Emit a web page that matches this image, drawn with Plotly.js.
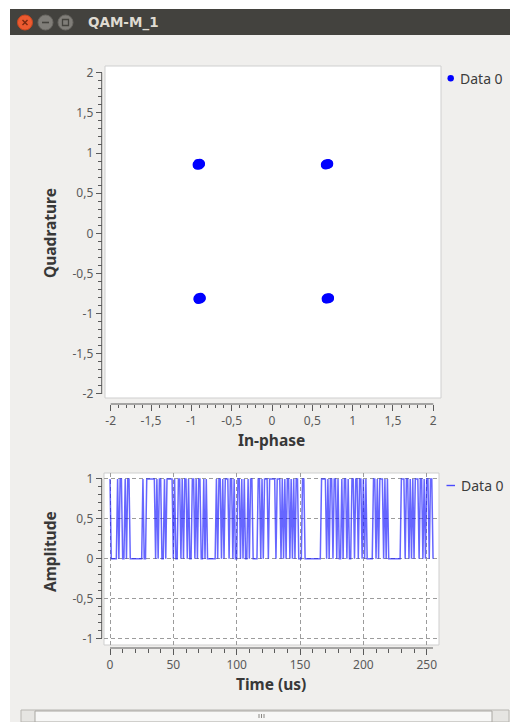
<!DOCTYPE html>
<html>
<head>
<meta charset="utf-8">
<script src="https://cdn.plot.ly/plotly-3.0.1.min.js"></script>
<style>html,body{margin:0;padding:0;background:#fff;}#chart{width:510px;height:722px;}</style>
</head>
<body>
<div id="chart"></div>
<script>
// ---- data ----
const windowTitle = 'QAM-M_1';
const seriesName = 'Data 0';
// constellation samples (In-phase, Quadrature)
const inPhase = [
  -0.91,-0.89,-0.93,-0.895,-0.925,-0.885,-0.92,-0.90,-0.88,-0.935,
   0.68, 0.70, 0.66, 0.695, 0.665, 0.705, 0.67, 0.69, 0.71, 0.655,
  -0.90,-0.88,-0.92,-0.885,-0.915,-0.875,-0.91,-0.89,-0.87,-0.925,
   0.69, 0.71, 0.67, 0.705, 0.675, 0.715, 0.68, 0.70, 0.72, 0.665
];
const quadrature = [
   0.86, 0.87, 0.85, 0.88, 0.84, 0.86, 0.875, 0.845, 0.865, 0.855,
   0.86, 0.87, 0.85, 0.875, 0.845, 0.86, 0.87, 0.85, 0.865, 0.855,
  -0.81,-0.80,-0.82,-0.79,-0.83,-0.81,-0.795,-0.825,-0.805,-0.815,
  -0.81,-0.80,-0.82,-0.795,-0.825,-0.81,-0.80,-0.82,-0.805,-0.815
];
// amplitude vs time (one sample per microsecond, starting at 0 us)
const amplitude = [
  1,0,0,0,0,0,1,0,1,1,0,0,1,0,1,1,0,0,0,0,0,0,0,0,0,0,1,0,0,1,1,1,
  1,1,1,1,0,1,0,1,1,0,0,1,0,1,1,1,1,1,0,1,0,0,1,1,0,1,0,1,1,0,1,0,
  0,1,1,0,1,0,1,1,0,0,1,0,1,0,0,0,0,0,0,0,1,0,1,1,0,1,0,1,1,1,0,1,
  1,0,1,0,0,1,1,0,1,0,1,0,0,1,0,1,1,0,0,0,0,1,1,0,1,0,1,1,1,0,1,1,
  1,1,1,0,1,1,1,0,1,0,1,0,1,1,0,1,0,1,0,1,1,0,0,0,1,1,0,0,0,0,0,0,
  0,0,0,0,0,0,0,1,1,1,1,0,1,0,1,1,0,1,1,0,1,0,0,1,0,1,1,0,1,0,0,1,
  1,0,1,1,0,1,1,0,1,0,1,0,0,0,0,0,1,1,0,1,0,1,1,1,0,1,0,1,0,0,0,0,
  0,0,0,0,0,0,1,1,1,0,1,1,0,1,0,1,0,1,1,1,0,1,1,0,1,0,1,1,0,1,1,0
];
const iqTickVals = [-2,-1.5,-1,-0.5,0,0.5,1,1.5,2];
const iqTickText = ['-2','-1,5','-1','-0,5','0','0,5','1','1,5','2'];
const ampTickVals = [-1,-0.5,0,0.5,1];
const ampTickText = ['-1','-0,5','0','0,5','1'];
const timeTickVals = [0,50,100,150,200,250];
const timeTickText = ['0','50','100','150','200','250'];

// ---- layout helpers ----
const W = 510, H = 722;
const px = x => x / W;
const py = y => 1 - y / H;
const tickGray = '#5a5a5a';
const titleGray = '#383838';
const FONT = 'Noto Sans, Open Sans, sans-serif';

function rect(x0, y0, x1, y1, fill, line, lw) {
  return {type:'rect', xref:'paper', yref:'paper', x0:px(x0), x1:px(x1), y0:py(y1), y1:py(y0),
          fillcolor:fill, line:{color:line || 'rgba(0,0,0,0)', width:lw || 0}, layer:'below'};
}
function circ(cx, cy, r, fill, line) {
  return {type:'circle', xref:'paper', yref:'paper', x0:px(cx-r), x1:px(cx+r), y0:py(cy+r), y1:py(cy-r),
          fillcolor:fill, line:{color:line || 'rgba(0,0,0,0)', width:line ? 1 : 0}, layer:'above'};
}
function seg(x0, y0, x1, y1, color, w, layer) {
  return {type:'line', xref:'paper', yref:'paper', x0:px(x0), x1:px(x1), y0:py(y0), y1:py(y1),
          line:{color:color, width:w}, layer:layer || 'above'};
}

const shapes = [
  // window background
  rect(10, 35, 510, 722, '#f0efed'),
  // title bar
  rect(10, 9, 510, 35, '#43423e'),
  // canvases
  rect(105, 66, 441, 398, '#ffffff', '#cfcfcf', 1),
  rect(104, 473, 439, 645, '#ffffff', '#cfcfcf', 1),
  // axis backbones
  seg(110.7, 404, 433.3, 404, tickGray, 1),
  seg(101.7, 72.7, 101.7, 394, tickGray, 1),
  seg(110, 648, 433, 648, tickGray, 1),
  seg(101.7, 479, 101.7, 638.3, tickGray, 1),
  // window buttons
  circ(25, 22.5, 7.5, '#ec5a30', '#c9471f'),
  circ(45.5, 22.5, 7.5, '#807e79', '#6b6964'),
  circ(65.5, 22.5, 7.5, '#807e79', '#6b6964'),
  seg(22.5, 20, 27.5, 25, '#7a2a10', 1.4),
  seg(22.5, 25, 27.5, 20, '#7a2a10', 1.4),
  seg(42, 22.5, 49, 22.5, '#45443f', 1.6),
  {type:'rect', xref:'paper', yref:'paper', x0:px(62.5), x1:px(68.5), y0:py(25.5), y1:py(19.5),
   fillcolor:'rgba(0,0,0,0)', line:{color:'#45443f', width:1.3}, layer:'above'},
  // legend symbols
  circ(450.7, 78.3, 3.2, '#0000ff'),
  seg(446.5, 485.5, 455, 485.5, '#4a4aff', 1.4),
  // scrollbar
  rect(21, 710, 509, 722, '#e6e5e2', '#b7b5b0', 1),
  rect(35, 711, 492, 722, '#f7f7f6', '#a9a7a2', 1),
  seg(259, 714, 259, 718, '#8a8884', 1),
  seg(261.5, 714, 261.5, 718, '#8a8884', 1),
  seg(264, 714, 264, 718, '#8a8884', 1)
];

const annotations = [
  {text:'<b>' + windowTitle + '</b>', x:px(86), y:py(22.5), xanchor:'left', yanchor:'middle',
   font:{family:'DejaVu Sans, sans-serif', size:13.5, color:'#dfdbd2'}},
  {text:'<b>Quadrature</b>', x:px(50), y:py(233), textangle:-90, xanchor:'center', yanchor:'middle',
   font:{family:FONT, size:15.5, color:titleGray}},
  {text:'<b>In-phase</b>', x:px(271.5), y:py(440), xanchor:'center', yanchor:'middle',
   font:{family:FONT, size:15.5, color:titleGray}},
  {text:'<b>Amplitude</b>', x:px(50), y:py(552), textangle:-90, xanchor:'center', yanchor:'middle',
   font:{family:FONT, size:15.5, color:titleGray}},
  {text:'<b>Time (us)</b>', x:px(271), y:py(684), xanchor:'center', yanchor:'middle',
   font:{family:FONT, size:15.5, color:titleGray}},
  {text:seriesName, x:px(458), y:py(78.5), xanchor:'left', yanchor:'middle',
   font:{family:FONT, size:14, color:'#3c3c3c'}},
  {text:seriesName, x:px(459), y:py(485.5), xanchor:'left', yanchor:'middle',
   font:{family:FONT, size:14, color:'#3c3c3c'}}
].map(a => Object.assign({xref:'paper', yref:'paper', showarrow:false}, a));

function axisBase(extra) {
  return Object.assign({
    anchor:'free', ticks:'outside', ticklen:6, tickwidth:1, tickcolor:tickGray,
    tickmode:'array', showline:false, zeroline:false, fixedrange:true,
    tickfont:{family:FONT, size:12, color:tickGray}
  }, extra);
}

const layout = {
  width:W, height:H, margin:{l:0, r:0, t:0, b:0},
  paper_bgcolor:'#ffffff', plot_bgcolor:'rgba(0,0,0,0)',
  showlegend:false, separators:', ',
  font:{family:FONT, size:12, color:tickGray},
  xaxis: axisBase({domain:[px(105), px(441)], range:[-2.0707, 2.0955], position:py(404),
    tickvals:iqTickVals, ticktext:iqTickText, showgrid:false,
    minor:{ticks:'outside', ticklen:3, tickmode:'linear', tick0:0, dtick:0.1, tickcolor:tickGray, showgrid:false}}),
  yaxis: axisBase({domain:[py(398), py(66)], range:[-2.05, 2.083], position:px(101.7),
    tickvals:iqTickVals, ticktext:iqTickText, showgrid:false,
    minor:{ticks:'outside', ticklen:4, tickmode:'linear', tick0:0, dtick:0.1, tickcolor:tickGray, showgrid:false}}),
  xaxis2: axisBase({domain:[px(104), px(439)], range:[-4.74, 259.7], position:py(648),
    tickvals:timeTickVals, ticktext:timeTickText, showgrid:true, gridcolor:'#9c9c9c', griddash:'4px,3px', gridwidth:1,
    minor:{ticks:'outside', ticklen:4, tickmode:'linear', tick0:0, dtick:10, tickcolor:tickGray, showgrid:false}}),
  yaxis2: axisBase({domain:[py(645), py(473)], range:[-1.084, 1.075], position:px(101.7),
    tickvals:ampTickVals, ticktext:ampTickText, showgrid:true, gridcolor:'#9c9c9c', griddash:'4px,3px', gridwidth:1,
    minor:{ticks:'outside', ticklen:4, tickmode:'linear', tick0:0, dtick:0.1, tickcolor:tickGray, showgrid:false}}),
  shapes:shapes,
  annotations:annotations
};

const traces = [
  {type:'scatter', mode:'markers', x:inPhase, y:quadrature, xaxis:'x', yaxis:'y', name:seriesName,
   marker:{color:'#0000ff', size:8, line:{width:0}}, hoverinfo:'skip'},
  {type:'scatter', mode:'lines', y:amplitude, x0:0, dx:1, xaxis:'x2', yaxis:'y2', name:seriesName,
   line:{color:'rgba(20,20,255,0.65)', width:1.5}, hoverinfo:'skip'}
];

Plotly.newPlot('chart', traces, layout, {staticPlot:true, displayModeBar:false});
</script>
</body>
</html>
